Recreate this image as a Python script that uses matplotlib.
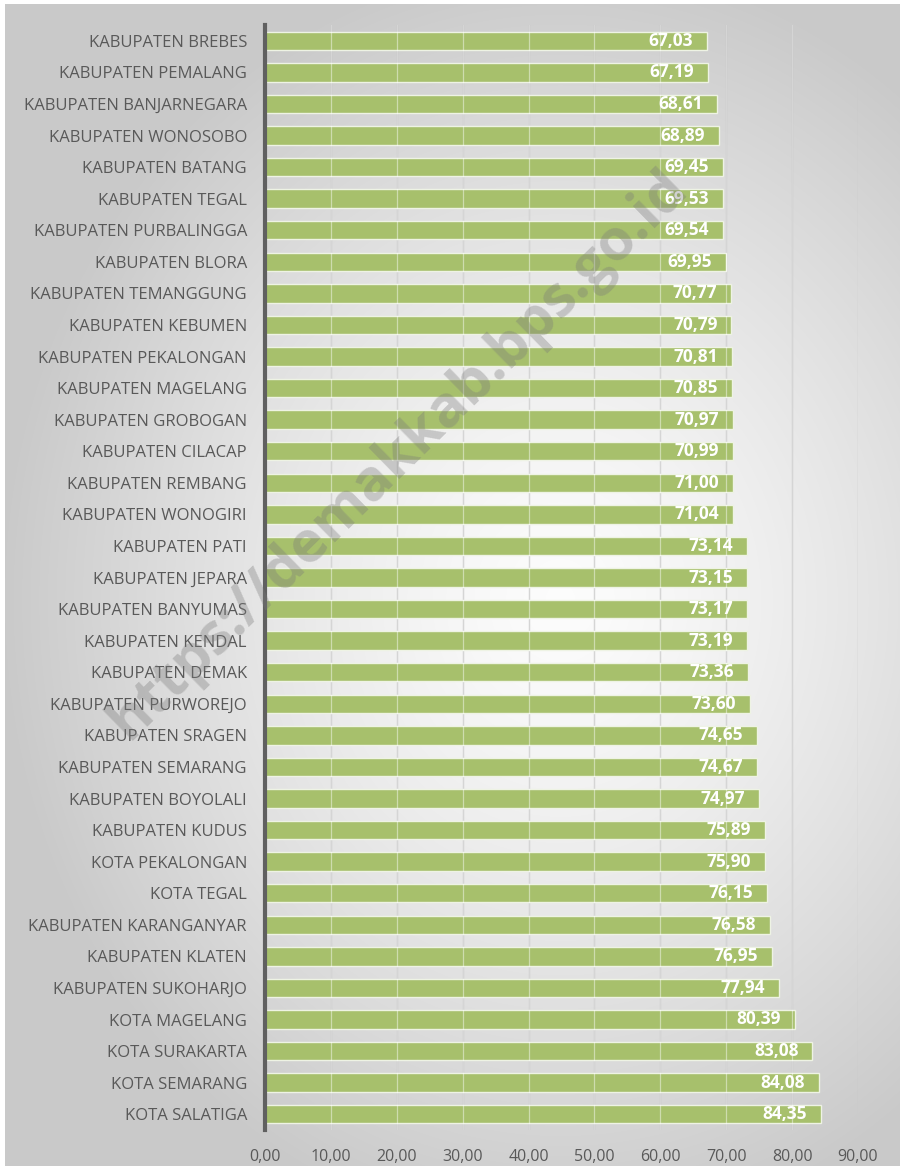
import matplotlib
matplotlib.use("Agg")
import matplotlib.pyplot as plt
import numpy as np

categories = [
    "KABUPATEN BREBES", "KABUPATEN PEMALANG", "KABUPATEN BANJARNEGARA",
    "KABUPATEN WONOSOBO", "KABUPATEN BATANG", "KABUPATEN TEGAL",
    "KABUPATEN PURBALINGGA", "KABUPATEN BLORA", "KABUPATEN TEMANGGUNG",
    "KABUPATEN KEBUMEN", "KABUPATEN PEKALONGAN", "KABUPATEN MAGELANG",
    "KABUPATEN GROBOGAN", "KABUPATEN CILACAP", "KABUPATEN REMBANG",
    "KABUPATEN WONOGIRI", "KABUPATEN PATI", "KABUPATEN JEPARA",
    "KABUPATEN BANYUMAS", "KABUPATEN KENDAL", "KABUPATEN DEMAK",
    "KABUPATEN PURWOREJO", "KABUPATEN SRAGEN", "KABUPATEN SEMARANG",
    "KABUPATEN BOYOLALI", "KABUPATEN KUDUS", "KOTA PEKALONGAN",
    "KOTA TEGAL", "KABUPATEN KARANGANYAR", "KABUPATEN KLATEN",
    "KABUPATEN SUKOHARJO", "KOTA MAGELANG", "KOTA SURAKARTA",
    "KOTA SEMARANG", "KOTA SALATIGA",
]
values = [
    67.03, 67.19, 68.61, 68.89, 69.45, 69.53, 69.54, 69.95, 70.77, 70.79,
    70.81, 70.85, 70.97, 70.99, 71.00, 71.04, 73.14, 73.15, 73.17, 73.19,
    73.36, 73.60, 74.65, 74.67, 74.97, 75.89, 75.90, 76.15, 76.58, 76.95,
    77.94, 80.39, 83.08, 84.08, 84.35,
]
xticks = [0, 10, 20, 30, 40, 50, 60, 70, 80, 90]
watermark = "https://demakkab.bps.go.id"

def fmt(v):
    return f"{v:.2f}".replace(".", ",")

W, H = 900, 1168
fig = plt.figure(figsize=(W / 100, H / 100), dpi=100)
fig.patch.set_facecolor("white")

# background radial gradient
bgax = fig.add_axes([0, 0, 1, 1], zorder=-10)
bgax.set_axis_off()
yy, xx = np.mgrid[0:H, 0:W]
cx, cy = 560, 600
r = np.sqrt(((xx - cx) / 560.0) ** 2 + ((yy - cy) / 640.0) ** 2)
r = np.clip(r, 0, 1)
light, dark = 0.99, 0.79
img = light - (light - dark) * r ** 1.3
rgb = np.dstack([img, img, img])
mask = np.ones((H, W), dtype=bool)
mask[:4, :] = False
mask[:, :5] = False
mask[1166:, :] = False
rgb[~mask] = 1.0
bgax.imshow(rgb, extent=[0, W, H, 0], aspect="auto")
bgax.set_xlim(0, W)
bgax.set_ylim(H, 0)

left, right = 265 / W, 858 / W
top, bottom = 1 - 25 / H, 1 - 1130 / H
ax = fig.add_axes([left, bottom, right - left, top - bottom])
ax.patch.set_alpha(0)

y = np.arange(len(categories))
ax.barh(y, values, height=0.58, color="#a7c06c", edgecolor="#eef3e4",
        linewidth=1.0, zorder=2)

for xv in xticks[1:]:
    ax.axvline(xv, color="#b4b4b4", linewidth=0.9, zorder=1)
    ax.axvline(xv, color="white", linewidth=0.9, alpha=0.45, zorder=3)

for yi, v in zip(y, values):
    ax.annotate(fmt(v), xy=(v, yi), xytext=(-10, 0), textcoords="offset points",
                ha="right", va="center", color="white", fontsize=12.5,
                fontweight="bold", family="Open Sans", zorder=4)

ax.set_xlim(0, 90)
ax.set_ylim(len(categories) - 0.5, -0.5)
ax.set_yticks(y)
ax.set_yticklabels(categories, family="Open Sans", fontsize=12, color="#595959")
ax.set_xticks(xticks)
ax.set_xticklabels([fmt(t) for t in xticks], family="Open Sans", fontsize=11.5,
                   color="#595959")
ax.tick_params(axis="y", length=0, pad=13)
ax.tick_params(axis="x", length=0, pad=14)
for s in ["top", "right", "bottom"]:
    ax.spines[s].set_visible(False)
ax.spines["left"].set_color("#606060")
ax.spines["left"].set_linewidth(3)
ax.spines["left"].set_zorder(5)

fig.text(398 / W, 1 - 455 / H, watermark, rotation=44.5, ha="center", va="center",
         fontsize=41, fontweight="bold", family="Open Sans", color="#7a7a7a",
         alpha=0.35, zorder=10, rotation_mode="anchor")

fig.savefig("out.png", dpi=100)
